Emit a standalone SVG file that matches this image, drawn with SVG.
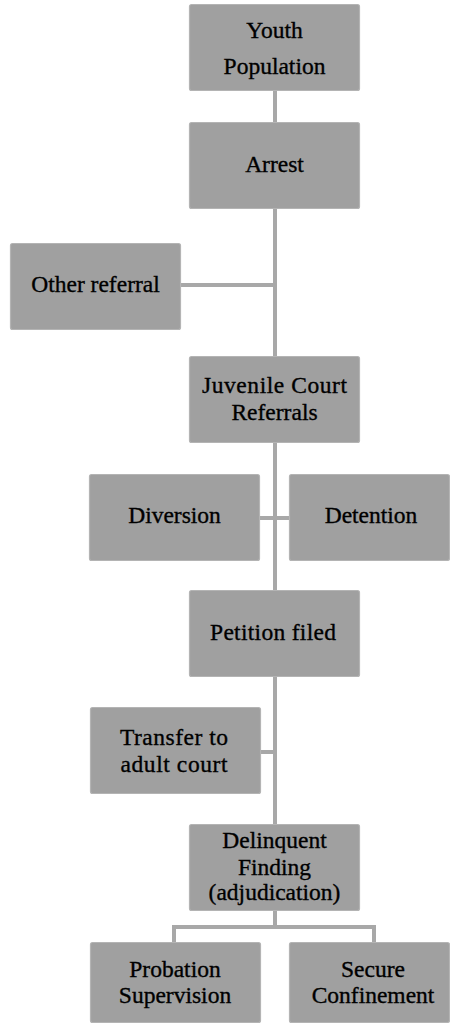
<svg xmlns="http://www.w3.org/2000/svg" width="450" height="1025" viewBox="0 0 450 1025">
<style>
.box{fill:#a0a0a0;stroke:#b4b4b4;stroke-width:1.2}
.lbl{font-size:23.5px;fill:#000;stroke:#000;stroke-width:0.35;text-anchor:middle}
.con{stroke:#a8a8a8;stroke-width:4;fill:none}
</style>
<rect width="450" height="1025" fill="#ffffff"/>
<g id="connectors">
<path class="con" d="M275 91V824"/>
<path class="con" d="M180 285H275"/>
<path class="con" d="M259 518H289"/>
<path class="con" d="M260 752H275"/>
<path class="con" d="M275 910V927M174 942V927H374V942"/>
</g>
<g font-family="Liberation Serif, Times New Roman, serif">
<g id="youth"><rect class="box" x="189.5" y="4.5" width="170" height="86" rx="2"/><text class="lbl" x="274.5" y="38">Youth</text><text class="lbl" x="274.5" y="74">Population</text></g>
<g id="arrest"><rect class="box" x="189.5" y="122.5" width="170" height="86" rx="2"/><text class="lbl" x="274.5" y="172">Arrest</text></g>
<g id="other"><rect class="box" x="10.5" y="243.5" width="170" height="86" rx="2"/><text class="lbl" x="95.5" y="292">Other referral</text></g>
<g id="juvenile"><rect class="box" x="189.5" y="356.5" width="170" height="86" rx="2"/><text class="lbl" x="274.5" y="393" textLength="145" lengthAdjust="spacing">Juvenile Court</text><text class="lbl" x="274.5" y="420">Referrals</text></g>
<g id="diversion"><rect class="box" x="89.5" y="474.5" width="170" height="86" rx="2"/><text class="lbl" x="174.5" y="523">Diversion</text></g>
<g id="detention"><rect class="box" x="289.5" y="474.5" width="160" height="86" rx="2"/><text class="lbl" x="371" y="523">Detention</text></g>
<g id="petition"><rect class="box" x="189.5" y="590.5" width="170" height="86" rx="2"/><text class="lbl" x="273" y="640" textLength="126" lengthAdjust="spacing">Petition filed</text></g>
<g id="transfer"><rect class="box" x="90.5" y="707.5" width="170" height="86" rx="2"/><text class="lbl" x="174" y="745" textLength="108" lengthAdjust="spacing">Transfer to</text><text class="lbl" x="174" y="772" textLength="107" lengthAdjust="spacing">adult court</text></g>
<g id="delinquent"><rect class="box" x="189.5" y="824.5" width="170" height="86" rx="2"/><text class="lbl" x="274.5" y="848">Delinquent</text><text class="lbl" x="274.5" y="875">Finding</text><text class="lbl" x="274.5" y="900">(adjudication)</text></g>
<g id="probation"><rect class="box" x="90.5" y="942.5" width="170" height="80" rx="2"/><text class="lbl" x="175" y="977">Probation</text><text class="lbl" x="175" y="1003">Supervision</text></g>
<g id="secure"><rect class="box" x="289.5" y="942.5" width="160" height="80" rx="2"/><text class="lbl" x="373" y="977">Secure</text><text class="lbl" x="373" y="1003">Confinement</text></g>
</g>
</svg>
